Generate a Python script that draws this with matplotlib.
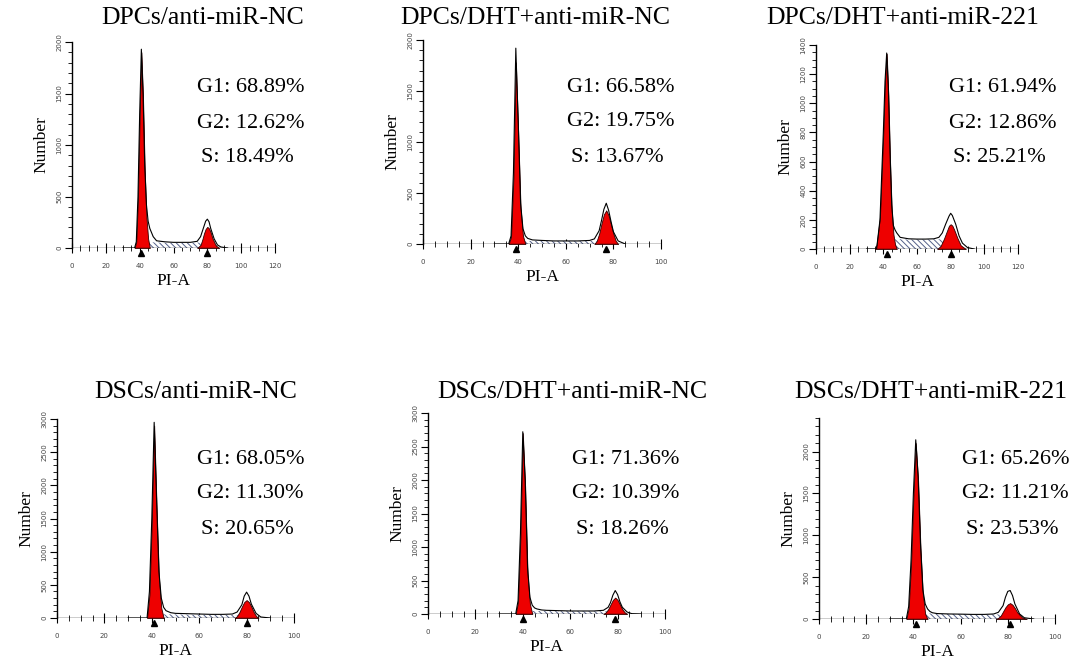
import matplotlib
matplotlib.use("Agg")
import matplotlib.pyplot as plt
import matplotlib.ticker as ticker
import matplotlib.transforms as mtransforms

plt.rcParams['hatch.linewidth'] = 0.7

# panel titles and phase percentages
titles = ["DPCs/anti-miR-NC", "DPCs/DHT+anti-miR-NC", "DPCs/DHT+anti-miR-221",
          "DSCs/anti-miR-NC", "DSCs/DHT+anti-miR-NC", "DSCs/DHT+anti-miR-221"]
g1_pct = [68.89, 66.58, 61.94, 68.05, 71.36, 65.26]
g2_pct = [12.62, 19.75, 12.86, 11.30, 10.39, 11.21]
s_pct = [18.49, 13.67, 25.21, 20.65, 18.26, 23.53]

# axis ranges
x_max = [120, 100, 120, 100, 100, 100]
y_max = [2000, 2000, 1400, 3000, 3000, 2400]
y_major = [500, 500, 200, 500, 500, 500]
y_minor = [100, 100, 50, 100, 100, 100]

# peak marker positions (G1, G2)
peak_pos = [(41, 80), (39, 77), (42, 80), (41, 80), (40, 79), (41, 81)]

# histogram outline (PI-A channel, count)
outline_x = [
    [30, 37, 38, 39, 40, 41, 42, 43, 44, 45, 46, 48, 50, 55, 60, 65, 70, 74, 76, 78, 79, 80, 81, 82, 84, 86, 88, 92],
    [30, 36, 37, 38, 39, 40, 41, 42, 43, 44, 46, 50, 55, 60, 65, 70, 72, 74, 75, 76, 77, 78, 79, 80, 82, 85],
    [30, 36, 38, 40, 41, 42, 43, 44, 45, 46, 47, 48, 50, 55, 60, 65, 70, 73, 75, 77, 79, 80, 81, 83, 85, 87, 90, 94],
    [30, 38, 39, 40, 41, 42, 43, 44, 45, 46, 48, 50, 55, 60, 65, 70, 74, 76, 78, 79, 80, 81, 82, 84, 86, 90],
    [30, 37, 38, 39, 40, 41, 42, 43, 44, 45, 46, 48, 50, 55, 60, 65, 70, 74, 76, 77, 78, 79, 80, 81, 82, 84, 86, 90],
    [30, 37, 38, 39, 40, 41, 42, 43, 44, 45, 46, 47, 48, 50, 55, 60, 65, 70, 74, 76, 78, 79, 80, 81, 82, 83, 85, 87, 91],
]
outline_y = [
    [0, 0, 60, 500, 1300, 1930, 1500, 800, 420, 260, 190, 110, 70, 60, 55, 55, 55, 65, 110, 210, 260, 280, 255, 190, 90, 30, 10, 0],
    [0, 0, 80, 700, 1920, 1200, 400, 150, 80, 55, 40, 35, 30, 30, 30, 35, 50, 130, 230, 340, 400, 330, 220, 120, 30, 0],
    [0, 0, 200, 800, 1150, 1345, 1100, 650, 300, 160, 130, 110, 80, 70, 68, 68, 70, 80, 110, 170, 225, 245, 230, 170, 90, 40, 10, 0],
    [0, 0, 400, 1500, 2950, 1800, 700, 300, 160, 110, 80, 70, 65, 60, 55, 55, 60, 90, 200, 330, 390, 330, 210, 70, 15, 0],
    [0, 0, 200, 1200, 2720, 2000, 700, 250, 130, 90, 75, 60, 55, 50, 45, 45, 45, 55, 100, 170, 280, 350, 290, 180, 100, 30, 5, 0],
    [0, 0, 150, 700, 1500, 2140, 1700, 900, 350, 180, 120, 90, 75, 65, 60, 58, 55, 55, 60, 80, 160, 260, 330, 340, 280, 180, 60, 15, 0],
]

# fitted G1 peak
g1_x = [
    [37, 38, 39, 40, 41, 42, 43, 44, 45, 46],
    [36, 37, 38, 39, 40, 41, 42, 43],
    [35, 36, 38, 40, 41, 42, 43, 44, 45, 46, 47, 48],
    [38, 39, 40, 41, 42, 43, 44, 45],
    [37, 38, 39, 40, 41, 42, 43, 44],
    [37, 38, 39, 40, 41, 42, 43, 44, 45, 46],
]
g1_y = [
    [0, 60, 480, 1280, 1900, 1450, 750, 300, 90, 0],
    [0, 70, 650, 1780, 1100, 350, 80, 0],
    [0, 30, 220, 800, 1150, 1340, 1050, 600, 260, 100, 30, 0],
    [0, 350, 1450, 2900, 1700, 600, 150, 0],
    [0, 180, 1150, 2700, 1900, 600, 150, 0],
    [0, 130, 650, 1450, 2100, 1650, 850, 300, 60, 0],
]

# fitted G2 peak
g2_x = [
    [74, 76, 77, 78, 79, 80, 81, 82, 83, 85, 87],
    [72, 73, 74, 75, 76, 77, 78, 79, 80, 81, 82],
    [72, 74, 76, 78, 79, 80, 81, 82, 84, 86, 89],
    [75, 76, 77, 78, 79, 80, 81, 82, 83, 84, 85],
    [74, 75, 76, 77, 78, 79, 80, 81, 82, 83, 84],
    [75, 76, 77, 78, 79, 80, 81, 82, 83, 84, 86, 88],
]
g2_y = [
    [0, 30, 80, 140, 185, 205, 190, 150, 95, 25, 0],
    [0, 30, 100, 200, 290, 330, 280, 190, 100, 30, 0],
    [0, 20, 70, 130, 160, 170, 160, 135, 75, 25, 0],
    [0, 30, 90, 170, 240, 270, 240, 170, 90, 30, 0],
    [0, 25, 70, 140, 210, 245, 210, 140, 70, 25, 0],
    [0, 15, 40, 90, 140, 175, 190, 170, 130, 80, 20, 0],
]

# fitted S phase
s_x = [
    [42, 45, 48, 55, 65, 74, 78, 82, 85],
    [40, 42, 45, 55, 65, 72, 76, 79],
    [43, 46, 48, 55, 65, 72, 76, 80, 84, 86],
    [42, 44, 48, 55, 65, 74, 78, 82, 84],
    [41, 44, 48, 55, 65, 74, 78, 81, 83],
    [42, 44, 48, 55, 65, 74, 78, 82, 86],
]
s_y = [
    [0, 55, 55, 50, 50, 52, 55, 40, 0],
    [0, 30, 30, 28, 28, 30, 20, 0],
    [0, 65, 68, 65, 65, 67, 65, 50, 20, 0],
    [0, 55, 55, 50, 45, 45, 40, 20, 0],
    [0, 45, 45, 42, 40, 40, 35, 15, 0],
    [0, 70, 65, 60, 55, 55, 55, 35, 0],
]

W, H = 1085, 663
# axes boxes in pixels: left, top, right, bottom
boxes = [(72, 42, 275, 248), (423, 40, 661, 244), (816, 45, 1018, 249),
         (57, 419, 294, 618), (428, 413, 665, 614), (819, 418, 1055, 619)]
title_pos = [(203, 18), (535, 18), (903, 18), (196, 392), (572, 392), (931, 392)]
stat_pos = [(197, 88), (567, 87), (949, 88), (197, 459), (572, 459), (962, 459)]

serif = 'Liberation Serif'
fig = plt.figure(figsize=(W / 100, H / 100), dpi=100)

for i in range(6):
    l, t, r, b = boxes[i]
    ax = fig.add_axes([l / W, 1 - b / H, (r - l) / W, (b - t) / H])

    ax.fill_between(s_x[i], s_y[i], color='white', edgecolor='#55618a',
                    hatch='\\\\\\\\\\\\', linewidth=0, zorder=2)
    ax.fill_between(g1_x[i], g1_y[i], facecolor='#ee0000', edgecolor='#300000',
                    linewidth=0.6, zorder=3)
    ax.fill_between(g2_x[i], g2_y[i], facecolor='#ee0000', edgecolor='#300000',
                    linewidth=0.6, zorder=3)
    ax.plot(outline_x[i], outline_y[i], color='black', linewidth=0.8, zorder=4)
    ax.plot([0, x_max[i]], [0, 0], color='black', linewidth=1, zorder=5)

    # peak markers under the axis
    trans = mtransforms.blended_transform_factory(ax.transData, ax.transAxes)
    ax.plot(peak_pos[i], [-0.025, -0.025], '^', color='black', markersize=5,
            transform=trans, clip_on=False, zorder=6)

    ax.set_xlim(0, x_max[i])
    ax.set_ylim(0, y_max[i])
    ax.spines['top'].set_visible(False)
    ax.spines['right'].set_visible(False)
    ax.spines['bottom'].set_visible(False)
    ax.spines['left'].set_linewidth(1)

    ax.xaxis.set_major_locator(ticker.MultipleLocator(20))
    ax.xaxis.set_minor_locator(ticker.MultipleLocator(5))
    ax.yaxis.set_major_locator(ticker.MultipleLocator(y_major[i]))
    ax.yaxis.set_minor_locator(ticker.MultipleLocator(y_minor[i]))
    ax.tick_params(axis='x', which='major', direction='inout', length=7, width=0.8,
                   labelsize=5, pad=7, labelcolor='#444444')
    ax.tick_params(axis='x', which='minor', direction='inout', length=5, width=0.6)
    ax.tick_params(axis='y', which='major', direction='out', length=5, width=0.8,
                   labelsize=5, labelrotation=90, pad=2, labelcolor='#444444')
    ax.tick_params(axis='y', which='minor', direction='out', length=3, width=0.6)
    for lab in ax.get_yticklabels():
        lab.set_va('center')

    ax.set_xlabel('PI-A', family=serif, fontsize=12.5, labelpad=3)
    ax.set_ylabel('Number', family=serif, fontsize=12.5, labelpad=5)

    tx, ty = title_pos[i]
    fig.text(tx / W, 1 - ty / H, titles[i], family=serif, fontsize=18.5,
             ha='center', va='center')
    sx, sy = stat_pos[i]
    fig.text(sx / W, 1 - sy / H, f"G1: {g1_pct[i]:.2f}%", family=serif,
             fontsize=16, va='center')
    fig.text(sx / W, 1 - (sy + 35) / H, f"G2: {g2_pct[i]:.2f}%", family=serif,
             fontsize=16, va='center')
    fig.text((sx + 4) / W, 1 - (sy + 70) / H, f"S: {s_pct[i]:.2f}%", family=serif,
             fontsize=16, va='center')

fig.savefig('out.png', dpi=100)
